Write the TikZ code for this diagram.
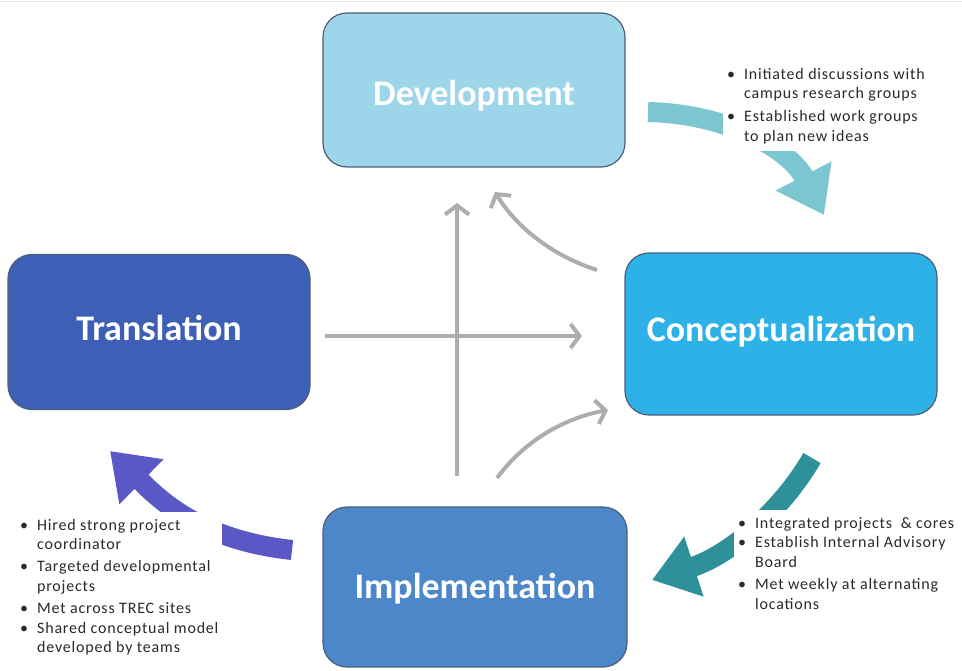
\documentclass[tikz,border=0pt]{standalone}
\usepackage{fontspec}
\setmainfont{Carlito}
\newfontfamily\notefont[LetterSpace=5]{Carlito}
\usetikzlibrary{arrows.meta}
\definecolor{devc}{HTML}{9DD5EA}
\definecolor{transc}{HTML}{3D5FB6}
\definecolor{concc}{HTML}{2DB1E6}
\definecolor{implc}{HTML}{4C87C9}
\definecolor{edgec}{HTML}{4E5F78}
\definecolor{grayarr}{HTML}{ADADAD}
\definecolor{tealL}{HTML}{7CC6D2}
\definecolor{tealD}{HTML}{2E9098}
\definecolor{purp}{HTML}{5A58C6}
\definecolor{txt}{HTML}{2A2A2A}
\begin{document}
\begin{tikzpicture}[x=1pt,y=-1pt,
  stage/.style={draw=edgec, line width=1.2pt, rounded corners=24pt, text=white,
    font=\fontsize{36}{40}\selectfont\bfseries, inner sep=0pt, outer sep=0pt},
  garrow/.style={draw=grayarr, line width=4pt, -{Straight Barb[length=9pt,width=24pt]}},
  bigarrow/.style={line width=20pt, -{Triangle[length=44pt,width=60pt]}},
  note/.style={fill=white, text=txt, font=\notefont\fontsize{16}{19.8}\selectfont,
    inner sep=4pt, anchor=north west, align=left}
]
\useasboundingbox (0,0) rectangle (962,671);
\fill[white] (0,0) rectangle (962,671);
\draw[gray!20, line width=1pt] (0,2) -- (962,2);

% stages
\node[stage, fill=devc, minimum width=302pt, minimum height=154pt] (dev) at (474,90) {\raisebox{-6pt}[\height][\depth]{Development}};
\node[stage, fill=transc, minimum width=302pt, minimum height=155pt] (trans) at (159,332) {\raisebox{4pt}[\height][\depth]{Translation}};
\node[stage, fill=concc, minimum width=312pt, minimum height=162pt] (conc) at (781,334) {\raisebox{2pt}[\height][\depth]{Conceptualization}};
\node[stage, fill=implc, minimum width=304pt, minimum height=160pt] (impl) at (475,587) {\raisebox{-2pt}[\height][\depth]{Implementation}};

% grey central arrows
\coordinate (hs) at (325,336);
\coordinate (he) at (582,336);
\coordinate (vs) at (457,476);
\coordinate (ve) at (457,203);
\coordinate (ts) at (597,270);
\coordinate (te) at (495,192);
\coordinate (bs) at (497,478);
\coordinate (be) at (608,410);
\draw[garrow] (hs) -- (he);
\draw[garrow] (vs) -- (ve);
\draw[garrow] (ts) .. controls (550,255) and (515,225) .. (te);
\draw[garrow] (bs) .. controls (525,440) and (565,418) .. (be);

% big coloured arrows
\coordinate (a1s) at (648,112);
\coordinate (a1e) at (824,215);
\coordinate (a2s) at (812,458);
\coordinate (a2e) at (652,580);
\coordinate (a3s) at (292,550);
\coordinate (a3e) at (110,451);
\draw[bigarrow, tealL] (a1s) .. controls (730,114) and (790,150) .. (a1e);
\draw[bigarrow, tealD] (a2s) .. controls (782,510) and (730,555) .. (a2e);
\draw[bigarrow, purp] (a3s) .. controls (200,540) and (160,500) .. (a3e);

% notes
\node[note] (n1) at (723,61) {\begin{tabular}{@{}l@{\hspace{9pt}}l@{}}
\textbullet & Initiated discussions with\\
 & campus research groups\\[3pt]
\textbullet & Established work groups\\
 & to plan new ideas
\end{tabular}};
\node[note] (n2) at (734,510) {\begin{tabular}{@{}l@{\hspace{9pt}}l@{}}
\textbullet & Integrated projects \ \& cores\\
\textbullet & Establish Internal Advisory\\
 & Board\\[2pt]
\textbullet & Met weekly at alternating\\
 & locations
\end{tabular}};
\node[note] (n3) at (16,512) {\begin{tabular}{@{}l@{\hspace{9pt}}l@{}}
\textbullet & Hired strong project\\
 & coordinator\\[2pt]
\textbullet & Targeted developmental\\
 & projects\\[2pt]
\textbullet & Met across TREC sites\\
\textbullet & Shared conceptual model\\
 & developed by teams
\end{tabular}};
\end{tikzpicture}
\end{document}
